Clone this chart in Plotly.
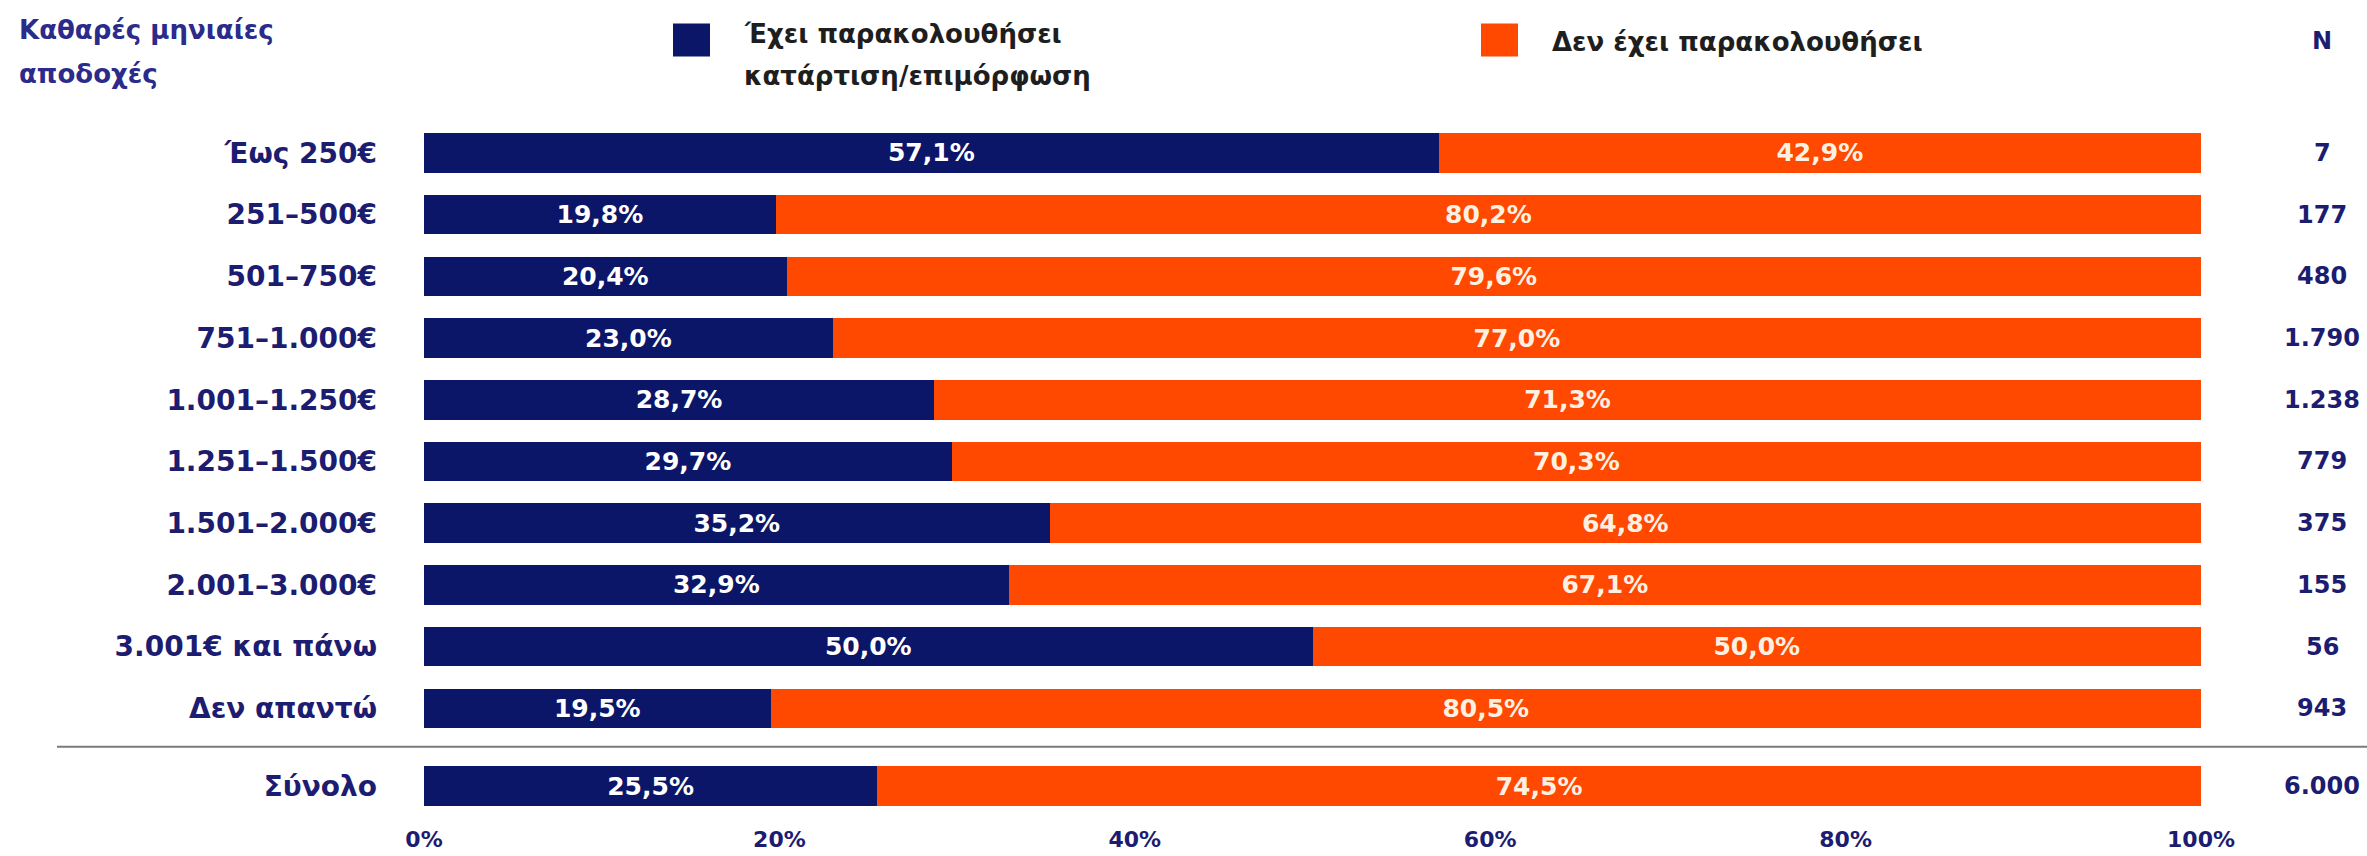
import plotly.graph_objects as go

# ------------------------------------------------------------------------------------------------------------
# Data
categories = ['Έως 250€', '251–500€', '501–750€', '751–1.000€', '1.001–1.250€', '1.251–1.500€',
              '1.501–2.000€', '2.001–3.000€', '3.001€ και πάνω', 'Δεν απαντώ', 'Σύνολο']
attended = [57.1, 19.8, 20.4, 23.0, 28.7, 29.7, 35.2, 32.9, 50.0, 19.5, 25.5]
not_attended = [42.9, 80.2, 79.6, 77.0, 71.3, 70.3, 64.8, 67.1, 50.0, 80.5, 74.5]
n_values = ['7', '177', '480', '1.790', '1.238', '779', '375', '155', '56', '943', '6.000']
x_ticks = [0, 20, 40, 60, 80, 100]
x_tick_labels = ['0%', '20%', '40%', '60%', '80%', '100%']

series_names = ['Έχει παρακολουθήσει κατάρτιση/επιμόρφωση', 'Δεν έχει παρακολουθήσει']
legend_lines = [['Έχει παρακολουθήσει', 'κατάρτιση/επιμόρφωση'], ['Δεν έχει παρακολουθήσει']]
header_lines = ['Καθαρές μηνιαίες', 'αποδοχές']

# ------------------------------------------------------------------------------------------------------------
# Layout helpers (pixel -> paper)
W, H = 2367, 856
L, R, T, B = 424, 2201, 121.5, 817.3
def px(x):
    return (x - L) / (R - L)
def py(y):
    return (B - y) / (B - T)

NAVY = '#0c1668'
ORANGE = '#ff4800'
LABEL = '#1c1c70'
FONT = 'DejaVu Sans'

# y positions: total row pushed a bit lower, below the separator
ypos = list(range(len(categories) - 1)) + [len(categories) - 1 + 0.26]

def fmt(v):
    return f'{v:.1f}'.replace('.', ',') + '%'

def text_at(x, y, txt, size, color, xanchor='left'):
    fig.add_annotation(x=px(x), y=py(y), xref='paper', yref='paper', text=txt, showarrow=False,
                       xanchor=xanchor, yanchor='middle', align='left',
                       font=dict(family=FONT, size=size, color=color, weight='bold'))

fig = go.Figure()
fig.add_trace(go.Bar(
    y=ypos, x=attended, orientation='h', name=series_names[0],
    marker=dict(color=NAVY, line_width=0), width=0.64,
    text=[fmt(v) for v in attended], textposition='inside', insidetextanchor='middle',
    textfont=dict(family=FONT, size=25, color='white', weight='bold'),
    showlegend=False))
fig.add_trace(go.Bar(
    y=ypos, x=not_attended, orientation='h', name=series_names[1],
    marker=dict(color=ORANGE, line_width=0), width=0.64,
    text=[fmt(v) for v in not_attended], textposition='inside', insidetextanchor='middle',
    textfont=dict(family=FONT, size=25, color='#fff1e2', weight='bold'),
    showlegend=False))

# N column
for yy, n in zip(ypos, n_values):
    fig.add_annotation(x=px(2322), y=yy, xref='paper', yref='y', text=n, showarrow=False,
                       xanchor='center', yanchor='middle',
                       font=dict(family=FONT, size=24, color=LABEL, weight='bold'))
text_at(2322, 40, 'N', 24, LABEL, xanchor='center')

# header
text_at(17, 29, header_lines[0], 26, '#2b2b8c')
text_at(17, 73, header_lines[1], 26, '#2b2b8c')

# legend drawn by hand (big squares)
for (x0, color, lines, y0) in [(673, NAVY, legend_lines[0], 33), (1481, ORANGE, legend_lines[1], 41)]:
    fig.add_shape(type='rect', xref='paper', yref='paper',
                  x0=px(x0), x1=px(x0 + 37), y0=py(56), y1=py(23),
                  fillcolor=color, line_width=0)
    for i, line in enumerate(lines):
        text_at(x0 + 69, y0 + 42 * i, line, 26, '#1e1e1e')

# separator line above the total
fig.add_shape(type='line', xref='paper', yref='y', x0=px(57), x1=px(2367),
              y0=ypos[-2] + 0.62, y1=ypos[-2] + 0.62, line=dict(color='#7a7a7a', width=2))

fig.update_layout(
    barmode='stack', width=W, height=H,
    margin=dict(l=L, r=W - R, t=T, b=H - B),
    plot_bgcolor='white', paper_bgcolor='white',
    xaxis=dict(range=[0, 100], tickvals=x_ticks, ticktext=x_tick_labels, showgrid=False,
               zeroline=False, showline=False, ticks='', ticklabelstandoff=7, automargin=False,
               tickfont=dict(family=FONT, size=22, color=LABEL, weight='bold')),
    yaxis=dict(range=[ypos[-1] + 0.5, -0.5], tickvals=ypos, ticktext=categories,
               showgrid=False, zeroline=False, showline=False, ticks='', ticklabelstandoff=46,
               automargin=False,
               tickfont=dict(family=FONT, size=28, color=LABEL, weight='bold')),
)

fig.write_html("out.html", config={'displayModeBar': False},
               post_script="document.body.style.margin='0';")
